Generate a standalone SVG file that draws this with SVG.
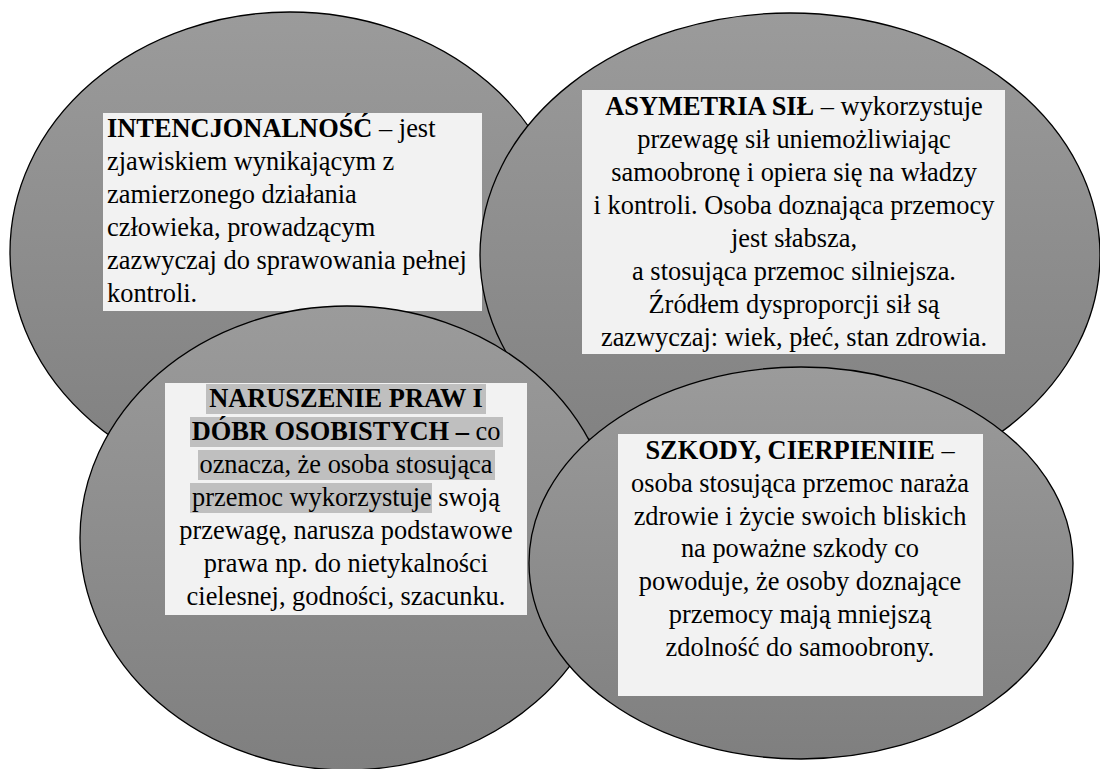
<svg xmlns="http://www.w3.org/2000/svg" width="1100" height="769" viewBox="0 0 1100 769">
  <defs>
    <linearGradient id="g" x1="0" y1="0" x2="0" y2="1">
      <stop offset="0" stop-color="#9b9b9b"/>
      <stop offset="1" stop-color="#7f7f7f"/>
    </linearGradient>
  </defs>
  <style>
    .ell { fill: url(#g); stroke: #000; stroke-width: 1.3; }
    .box { fill: #f2f2f2; }
    .hl { fill: #bfbfbf; }
  </style>
  <rect width="1100" height="769" fill="#fff"/>
  <g id="n1">
    <ellipse class="ell" cx="290" cy="252" rx="280" ry="240"/>
    <rect class="box" x="103" y="113" width="379" height="198"/>
    <text x="107" y="137" font-family="Tinos, Liberation Serif, serif" font-size="26.4"><tspan font-weight="bold">INTENCJONALNOŚĆ</tspan> – jest</text>
    <text x="107" y="170" font-family="Tinos, Liberation Serif, serif" font-size="26.4">zjawiskiem wynikającym z</text>
    <text x="107" y="203" font-family="Tinos, Liberation Serif, serif" font-size="26.4">zamierzonego działania</text>
    <text x="107" y="236" font-family="Tinos, Liberation Serif, serif" font-size="26.4">człowieka, prowadzącym</text>
    <text x="107" y="269" font-family="Tinos, Liberation Serif, serif" font-size="26.4">zazwyczaj do sprawowania pełnej</text>
    <text x="107" y="302" font-family="Tinos, Liberation Serif, serif" font-size="26.4">kontroli.</text>
  </g>
  <g id="n2">
    <ellipse class="ell" cx="790" cy="255" rx="310" ry="242"/>
    <rect class="box" x="582" y="90" width="423" height="264"/>
    <text x="794" y="115" text-anchor="middle" font-family="Tinos, Liberation Serif, serif" font-size="26.4"><tspan font-weight="bold">ASYMETRIA SIŁ</tspan> – wykorzystuje</text>
    <text x="794" y="148" text-anchor="middle" font-family="Tinos, Liberation Serif, serif" font-size="26.4">przewagę sił uniemożliwiając</text>
    <text x="794" y="181" text-anchor="middle" font-family="Tinos, Liberation Serif, serif" font-size="26.4">samoobronę i opiera się na władzy</text>
    <text x="794" y="214" text-anchor="middle" font-family="Tinos, Liberation Serif, serif" font-size="26.4">i kontroli. Osoba doznająca przemocy</text>
    <text x="794" y="247" text-anchor="middle" font-family="Tinos, Liberation Serif, serif" font-size="26.4">jest słabsza,</text>
    <text x="794" y="280" text-anchor="middle" font-family="Tinos, Liberation Serif, serif" font-size="26.4">a stosująca przemoc silniejsza.</text>
    <text x="794" y="313" text-anchor="middle" font-family="Tinos, Liberation Serif, serif" font-size="26.4">Źródłem dysproporcji sił są</text>
    <text x="794" y="346" text-anchor="middle" font-family="Tinos, Liberation Serif, serif" font-size="26.4">zazwyczaj: wiek, płeć, stan zdrowia.</text>
  </g>
  <g id="n3">
    <ellipse class="ell" cx="347" cy="538" rx="267" ry="232"/>
    <rect class="box" x="165" y="383" width="362" height="232"/>
    <rect class="hl" x="206" y="384" width="280" height="30"/>
    <rect class="hl" x="190" y="417" width="313" height="30"/>
    <rect class="hl" x="198" y="450" width="297" height="30"/>
    <rect class="hl" x="190" y="483" width="242" height="30"/>
    <text x="346" y="407" text-anchor="middle" font-family="Tinos, Liberation Serif, serif" font-size="26.4" font-weight="bold">NARUSZENIE PRAW I</text>
    <text x="346" y="440" text-anchor="middle" font-family="Tinos, Liberation Serif, serif" font-size="26.4"><tspan font-weight="bold">DÓBR OSOBISTYCH –</tspan> co</text>
    <text x="346" y="473" text-anchor="middle" font-family="Tinos, Liberation Serif, serif" font-size="26.4">oznacza, że osoba stosująca</text>
    <text x="346" y="506" text-anchor="middle" font-family="Tinos, Liberation Serif, serif" font-size="26.4">przemoc wykorzystuje swoją</text>
    <text x="346" y="539" text-anchor="middle" font-family="Tinos, Liberation Serif, serif" font-size="26.4">przewagę, narusza podstawowe</text>
    <text x="346" y="572" text-anchor="middle" font-family="Tinos, Liberation Serif, serif" font-size="26.4">prawa np. do nietykalności</text>
    <text x="346" y="605" text-anchor="middle" font-family="Tinos, Liberation Serif, serif" font-size="26.4">cielesnej, godności, szacunku.</text>
  </g>
  <g id="n4">
    <ellipse class="ell" cx="801" cy="563" rx="272" ry="196"/>
    <rect class="box" x="618" y="434" width="365" height="262"/>
    <text x="800" y="459" text-anchor="middle" font-family="Tinos, Liberation Serif, serif" font-size="26.4"><tspan font-weight="bold">SZKODY, CIERPIENIIE</tspan> –</text>
    <text x="800" y="492" text-anchor="middle" font-family="Tinos, Liberation Serif, serif" font-size="26.4">osoba stosująca przemoc naraża</text>
    <text x="800" y="525" text-anchor="middle" font-family="Tinos, Liberation Serif, serif" font-size="26.4">zdrowie i życie swoich bliskich</text>
    <text x="800" y="557" text-anchor="middle" font-family="Tinos, Liberation Serif, serif" font-size="26.4">na poważne szkody co</text>
    <text x="800" y="590" text-anchor="middle" font-family="Tinos, Liberation Serif, serif" font-size="26.4">powoduje, że osoby doznające</text>
    <text x="800" y="623" text-anchor="middle" font-family="Tinos, Liberation Serif, serif" font-size="26.4">przemocy mają mniejszą</text>
    <text x="800" y="656" text-anchor="middle" font-family="Tinos, Liberation Serif, serif" font-size="26.4">zdolność do samoobrony.</text>
  </g>
</svg>
